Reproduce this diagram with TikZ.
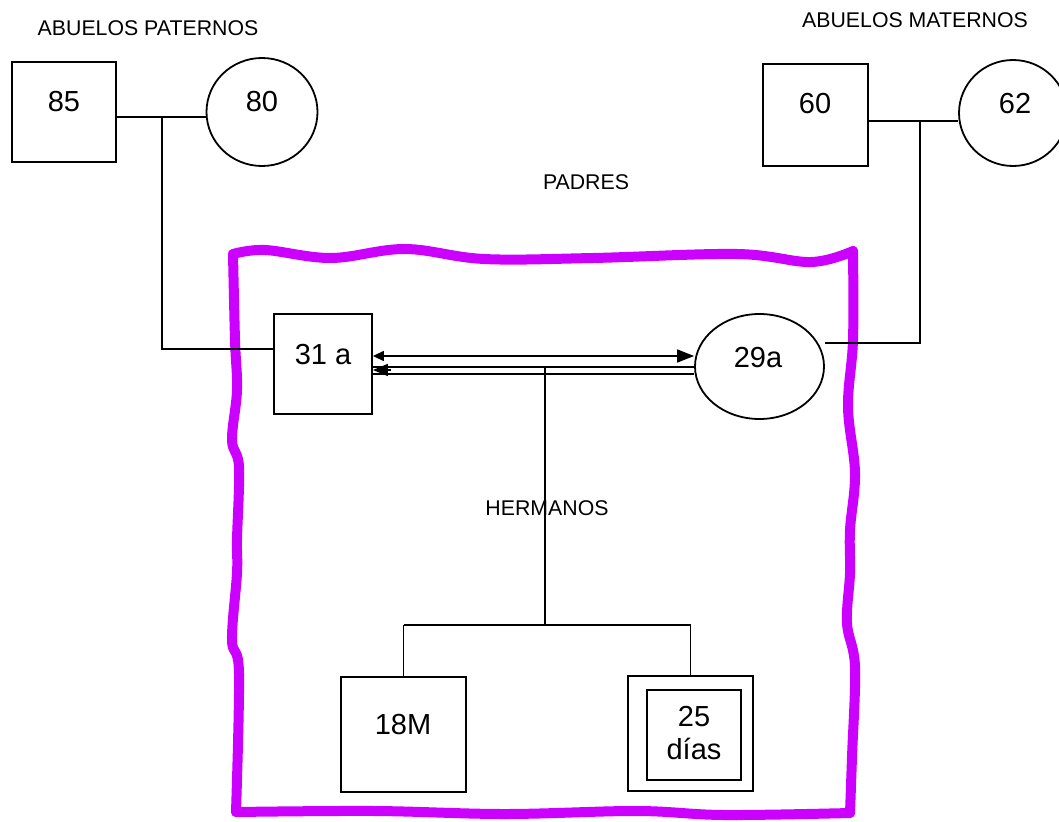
\documentclass[tikz,border=0pt]{standalone}
\usepackage{fontspec}
\setmainfont{Liberation Sans}
\usetikzlibrary{shapes.geometric,arrows.meta}
\definecolor{wavepurple}{RGB}{204,0,255}
\begin{document}
\begin{tikzpicture}[x=1pt,y=-1pt,
  person/.style={draw,line width=1.8pt,inner sep=0pt},
  sq/.style={person,rectangle},
  fem/.style={person,ellipse},
  num/.style={font=\fontsize{29}{31}\selectfont,inner sep=0pt},
  lbl/.style={font=\fontsize{21.3}{23}\selectfont,inner sep=0pt},
  conn/.style={line width=1.5pt},
  wed/.style={line width=2pt},
  frame/.style={draw=wavepurple,line width=10pt,line cap=round,line join=round}]
\useasboundingbox[fill=white] (0,0) rectangle (1059,821);

% labels
\node[lbl] (lp) at (148,28) {ABUELOS PATERNOS};
\node[lbl] (lm) at (915,20) {ABUELOS MATERNOS};
\node[lbl] (lpa) at (586,182) {PADRES};

% wavy frame
\draw[frame] plot[smooth,tension=0.6] coordinates {(233,254) (265,250) (331,258) (405,249) (484,259) (593,258) (737,254) (811,262) (853,251)};
\draw[frame] plot[smooth,tension=0.6] coordinates {(853,251) (853,340) (848,407) (855,473) (850,530) (850,573) (847,623) (855,667) (852,757) (850,813)};
\draw[frame] plot[smooth,tension=0.6] coordinates {(850,813) (724,815) (637,811) (505,814) (375,811) (236,812)};
\draw[frame] plot[smooth,tension=0.6] coordinates {(236,812) (239,673) (232,640) (237,573) (237,540) (239,467) (232,440) (237,390) (235,340) (233,254)};

\node[lbl] (lh) at (547,508) {HERMANOS};

% grandparents
\node[sq,minimum width=104pt,minimum height=100pt] (g85) at (64,112) {};
\node[num] (t85) at (64,102) {85};
\node[fem,minimum width=111pt,minimum height=108pt] (g80) at (262,112) {};
\node[num] (t80) at (262,102) {80};
\node[sq,minimum width=105pt,minimum height=102pt] (g60) at (815.5,115) {};
\node[num] (t60) at (815,104) {60};
\node[fem,minimum width=108pt,minimum height=106pt] (g62) at (1013,113) {};
\node[num] (t62) at (1015,104) {62};

% parents
\node[sq,minimum width=98pt,minimum height=100pt] (p31) at (323,364) {};
\node[num] (t31) at (323,355) {31 a};
\node[fem,minimum width=129pt,minimum height=105pt] (m29) at (759.5,366.5) {};
\node[num] (t29) at (758,358) {29a};

% children
\node[sq,minimum width=125pt,minimum height=115pt] (c18) at (403.5,734.5) {};
\node[num] (t18) at (403,725) {18M};
\node[sq,minimum width=125pt,minimum height=115pt] (c25) at (690.5,733.5) {};
\node[sq,minimum width=94pt,minimum height=90pt] (c25i) at (694,735) {};
\node[num,align=center,font=\fontsize{29}{33}\selectfont] (t25) at (694,733) {25\\días};

% paternal grandparents couple
\coordinate (pm) at (162,117);
\coordinate (pj) at (162,349);
\draw[wed] (g85.east|-pm) -- (g80.west|-pm);
\draw[conn] (pm) -- (pj) -- (p31.west|-pj);

% maternal grandparents couple
\coordinate (mm) at (920,121);
\coordinate (mj) at (920,343);
\coordinate (me) at (825,343);
\draw[wed] (g60.east|-mm) -- (g62.west|-mm);
\draw[conn] (mm) -- (mj) -- (me);

% parents relation
\coordinate (ca) at (0,356);
\coordinate (cb) at (0,366.5);
\coordinate (cc) at (0,374);
\coordinate (cm) at (0,370);
\draw[conn,{Triangle[width=10pt,length=11pt]}-{Triangle[width=13pt,length=17pt]}] (p31.east|-ca) -- (m29.west|-ca);
\draw[wed] (p31.east|-cb) -- (m29.west|-cb);
\draw[conn] (p31.east|-cc) -- (m29.west|-cc);
\draw[conn,{Triangle[width=12pt,length=15pt]}-] (p31.east|-cm) -- ++(18,0);

% siblings
\coordinate (cv) at (545,366.5);
\coordinate (sj) at (545,625);
\draw[conn] (cv) -- (sj);
\draw[conn] (c18.north|-sj) -- (c25.north|-sj);
\draw[conn] (c18.north|-sj) -- (c18.north);
\draw[conn] (c25.north|-sj) -- (c25.north);
\end{tikzpicture}
\end{document}
